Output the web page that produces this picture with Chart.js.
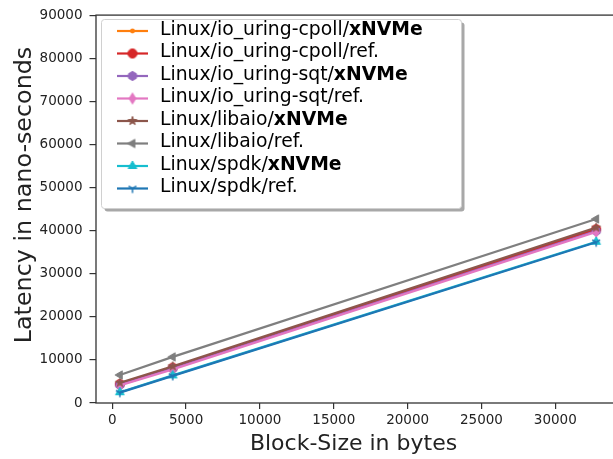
<!DOCTYPE html>
<html>
<head>
<meta charset="utf-8">
<script src="https://cdn.jsdelivr.net/npm/chart.js@4"></script>
<style>
  html, body { margin: 0; padding: 0; overflow: hidden; background: #fff; width: 613px; height: 459px; }
  canvas { display: block; }
</style>
</head>
<body>
<canvas id="chart" width="630" height="459"></canvas>
<script>
// Block sizes tested (bytes)
const blockSizes = [512, 4096, 32768];

// Mean latency per block size (nano-seconds)
const cpollXnvme = [4500, 8300, 40400];
const cpollRef   = [4400, 8200, 40300];
const sqtXnvme   = [4200, 8000, 39900];
const sqtRef     = [4100, 7800, 39700];
const libaioXnvme = [4700, 8500, 40700];
const libaioRef   = [6500, 10700, 42700];
const spdkXnvme  = [2500, 6400, 37400];
const spdkRef    = [2400, 6300, 37300];

// Legend labels: plain prefix followed by a suffix (the "xNVMe" suffix is set in bold)
const labelPrefixes = [
  'Linux/io_uring-cpoll/', 'Linux/io_uring-cpoll/',
  'Linux/io_uring-sqt/', 'Linux/io_uring-sqt/',
  'Linux/libaio/', 'Linux/libaio/',
  'Linux/spdk/', 'Linux/spdk/'
];
const labelSuffixes = ['xNVMe', 'ref.', 'xNVMe', 'ref.', 'xNVMe', 'ref.', 'xNVMe', 'ref.'];

// Axis ticks and titles
const xTicks = [0, 5000, 10000, 15000, 20000, 25000, 30000];
const yTicks = [0, 10000, 20000, 30000, 40000, 50000, 60000, 70000, 80000, 90000];
const xTitle = 'Block-Size in bytes';
const yTitle = 'Latency in nano-seconds';

const seriesValues = [cpollXnvme, cpollRef, sqtXnvme, sqtRef, libaioXnvme, libaioRef, spdkXnvme, spdkRef];
const seriesColors = ['#ff7f0e', '#d62728', '#9467bd', '#e377c2', '#8c564b', '#7f7f7f', '#17becf', '#1f77b4'];
const seriesMarkers = ['point', 'circle', 'hexagon', 'thinDiamond', 'star', 'triLeft', 'triUp', 'triDown'];

// Build a small canvas holding one marker glyph
function makeMarker(kind, color) {
  const size = 16, c = size / 2;
  const cv = document.createElement('canvas');
  cv.width = size; cv.height = size;
  const g = cv.getContext('2d');
  g.fillStyle = color; g.strokeStyle = color; g.lineWidth = 1;
  g.lineJoin = 'miter';
  const poly = (pts) => {
    g.beginPath();
    pts.forEach((p, i) => i ? g.lineTo(c + p[0], c + p[1]) : g.moveTo(c + p[0], c + p[1]));
    g.closePath(); g.fill(); g.stroke();
  };
  const reg = (n, r, start) => {
    const pts = [];
    for (let i = 0; i < n; i++) {
      const a = start + i * 2 * Math.PI / n;
      pts.push([r * Math.cos(a), r * Math.sin(a)]);
    }
    return pts;
  };
  switch (kind) {
    case 'point':
      g.beginPath(); g.arc(c, c, 2.4, 0, Math.PI * 2); g.fill(); break;
    case 'circle':
      g.beginPath(); g.arc(c, c, 4.6, 0, Math.PI * 2); g.fill(); g.stroke(); break;
    case 'hexagon':
      poly(reg(6, 4.6, -Math.PI / 2)); break;
    case 'thinDiamond':
      poly([[0, -5.5], [3.4, 0], [0, 5.5], [-3.4, 0]]); break;
    case 'star': {
      const pts = [];
      for (let i = 0; i < 10; i++) {
        const r = i % 2 ? 1.8 : 4.6;
        const a = -Math.PI / 2 + i * Math.PI / 5;
        pts.push([r * Math.cos(a), r * Math.sin(a)]);
      }
      poly(pts); break;
    }
    case 'triLeft':
      poly(reg(3, 4.8, Math.PI)); break;
    case 'triUp':
      poly(reg(3, 5, -Math.PI / 2)); break;
    case 'triDown':
      g.lineWidth = 1.5;
      g.beginPath();
      g.moveTo(c, c); g.lineTo(c, c + 4.5);
      g.moveTo(c, c); g.lineTo(c - 3.9, c - 2.25);
      g.moveTo(c, c); g.lineTo(c + 3.9, c - 2.25);
      g.stroke(); break;
  }
  return cv;
}

const markerImages = seriesMarkers.map((m, i) => makeMarker(m, seriesColors[i]));

const datasets = seriesValues.map((vals, i) => ({
  label: labelPrefixes[i] + labelSuffixes[i],
  data: vals.map((v, j) => ({ x: blockSizes[j], y: v })),
  borderColor: seriesColors[i],
  backgroundColor: seriesColors[i],
  borderWidth: 2.2,
  pointStyle: markerImages[i],
  pointRadius: 5,
  tension: 0,
  order: seriesValues.length - i   // later series drawn on top
}));

const FONT = "'DejaVu Sans', sans-serif";

// Frame around the plotting area
const framePlugin = {
  id: 'frame',
  afterDatasetsDraw(chart) {
    const { ctx, chartArea: a } = chart;
    ctx.save();
    ctx.strokeStyle = '#333';
    ctx.lineWidth = 1.3;
    ctx.strokeRect(a.left, a.top, a.right - a.left, a.bottom - a.top);
    ctx.restore();
  }
};

// Axis titles
const titlePlugin = {
  id: 'axisTitles',
  afterDraw(chart) {
    const ctx = chart.ctx;
    ctx.save();
    ctx.fillStyle = '#222';
    ctx.textAlign = 'center';
    ctx.textBaseline = 'middle';
    ctx.font = '22px ' + FONT;
    ctx.fillText(xTitle, 353.5, 444.5);
    ctx.translate(25, 195);
    ctx.rotate(-Math.PI / 2);
    ctx.font = '23.8px ' + FONT;
    ctx.fillText(yTitle, 0, 0);
    ctx.restore();
  }
};

// Legend with mixed regular/bold label text and a drop shadow
const legendPlugin = {
  id: 'richLegend',
  afterDraw(chart) {
    const ctx = chart.ctx;
    const box = { x: 101.5, y: 19.5, w: 360, h: 189, r: 3 };
    ctx.save();
    const rr = (x, y, w, h, r) => {
      ctx.beginPath();
      ctx.moveTo(x + r, y);
      ctx.arcTo(x + w, y, x + w, y + h, r);
      ctx.arcTo(x + w, y + h, x, y + h, r);
      ctx.arcTo(x, y + h, x, y, r);
      ctx.arcTo(x, y, x + w, y, r);
      ctx.closePath();
    };
    // shadow
    rr(box.x + 3, box.y + 3, box.w, box.h, box.r);
    ctx.fillStyle = 'rgba(110,110,110,0.6)';
    ctx.fill();
    // frame
    rr(box.x, box.y, box.w, box.h, box.r);
    ctx.fillStyle = '#fff';
    ctx.fill();
    ctx.strokeStyle = '#d0d0d0';
    ctx.lineWidth = 1;
    ctx.stroke();

    const rowY0 = 31, rowStep = 22.5;
    const lineX0 = 117, lineX1 = 148, textX = 160;
    chart.data.datasets.forEach((ds, i) => {
      const y = rowY0 + i * rowStep;
      ctx.strokeStyle = ds.borderColor;
      ctx.lineWidth = 2.2;
      ctx.beginPath();
      ctx.moveTo(lineX0, y); ctx.lineTo(lineX1, y);
      ctx.stroke();
      const img = ds.pointStyle;
      ctx.drawImage(img, (lineX0 + lineX1) / 2 - img.width / 2, y - img.height / 2);

      ctx.fillStyle = '#000';
      ctx.textBaseline = 'middle';
      ctx.textAlign = 'left';
      ctx.font = '18.8px ' + FONT;
      ctx.fillText(labelPrefixes[i], textX, y - 1);
      const w = ctx.measureText(labelPrefixes[i]).width;
      if (labelSuffixes[i] === 'xNVMe') ctx.font = 'bold 18.8px ' + FONT;
      ctx.fillText(labelSuffixes[i], textX + w, y - 1);
    });
    ctx.restore();
  }
};

new Chart(document.getElementById('chart'), {
  type: 'line',
  data: { datasets },
  plugins: [framePlugin, titlePlugin, legendPlugin],
  options: {
    responsive: false,
    animation: false,
    layout: { padding: { left: 0, right: 10, top: 12, bottom: 0 } },
    plugins: { legend: { display: false }, tooltip: { enabled: false } },
    scales: {
      x: {
        type: 'linear',
        min: -1101, max: 34381,
        afterBuildTicks: s => { s.ticks = xTicks.map(v => ({ value: v })); },
        afterFit: s => { s.height = 56; },
        grid: { drawOnChartArea: false, tickLength: 6, color: '#333', lineWidth: 1.2 },
        border: { display: false },
        ticks: { font: { family: FONT, size: 13.5 }, color: '#222', padding: 3, maxRotation: 0, autoSkip: false,
                 callback: v => String(v) },
        title: { display: false }
      },
      y: {
        min: 0, max: 90000,
        afterBuildTicks: s => { s.ticks = yTicks.map(v => ({ value: v })); },
        afterFit: s => { s.width = 96; },
        grid: { drawOnChartArea: false, tickLength: 6.5, color: '#333', lineWidth: 1.2 },
        border: { display: false },
        ticks: { font: { family: FONT, size: 13.5 }, color: '#222', padding: 7, autoSkip: false,
                 callback: v => String(v) },
        title: { display: false }
      }
    }
  }
});
</script>
</body>
</html>
